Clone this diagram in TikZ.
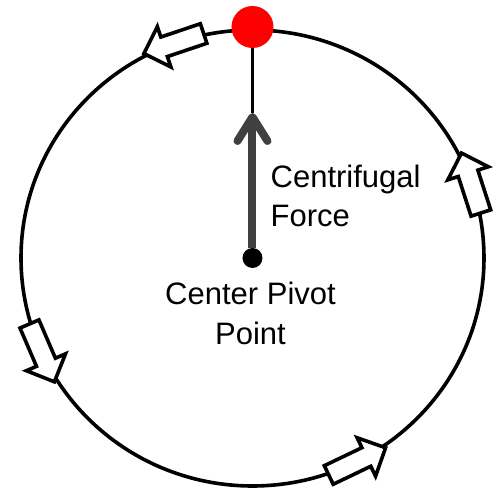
\documentclass[tikz,border=0pt]{standalone}
\usepackage{fontspec}
\setmainfont{Liberation Sans}
\usetikzlibrary{arrows.meta,positioning,shapes.arrows}
\definecolor{forcegray}{HTML}{404040}
\definecolor{massred}{HTML}{FF0000}

\tikzset{
  flowarrow/.style={single arrow,draw=black,fill=white,line width=3.6pt,
    minimum height=63pt,inner sep=8.5pt,single arrow head extend=11pt,
    single arrow tip angle=90},
  bigtext/.style={font=\fontsize{31}{39.5}\selectfont,inner sep=0pt}
}

\begin{document}
\begin{tikzpicture}[x=1pt,y=1pt]
  \useasboundingbox (-252.5,-234) rectangle (243.5,258);
  % path of the pivot arm
  \draw[line width=3.6pt] (0,0) ellipse [x radius=231.5pt,y radius=228pt];
  \foreach \a/\n in {108.6/a,17.9/b,203.3/c,295.6/d}
    \node[flowarrow,rotate=\a+90] (flow\n) at (\a:231.5pt and 228pt) {};

  \node[circle,fill=massred,minimum size=42pt,inner sep=0pt] (mass) at (0,231) {};
  \node[circle,fill=black,minimum size=20pt,inner sep=0pt] (pivot) at (0,0) {};
  \coordinate (forcetip) at (0,145);
  \draw[line width=3.4pt] (mass) -- (forcetip);
  \draw[forcegray,line width=8pt,
        -{Straight Barb[length=24pt,width=30pt,round]}] (pivot) -- (forcetip);

  \node[bigtext,align=left,anchor=north west] (forcelbl) at (18,93.5)
       {Centrifugal\\Force};
  \node[bigtext,align=center,below=14pt of pivot,xshift=-2pt] (pivotlbl)
       {Center Pivot\\Point};
\end{tikzpicture}
\end{document}
